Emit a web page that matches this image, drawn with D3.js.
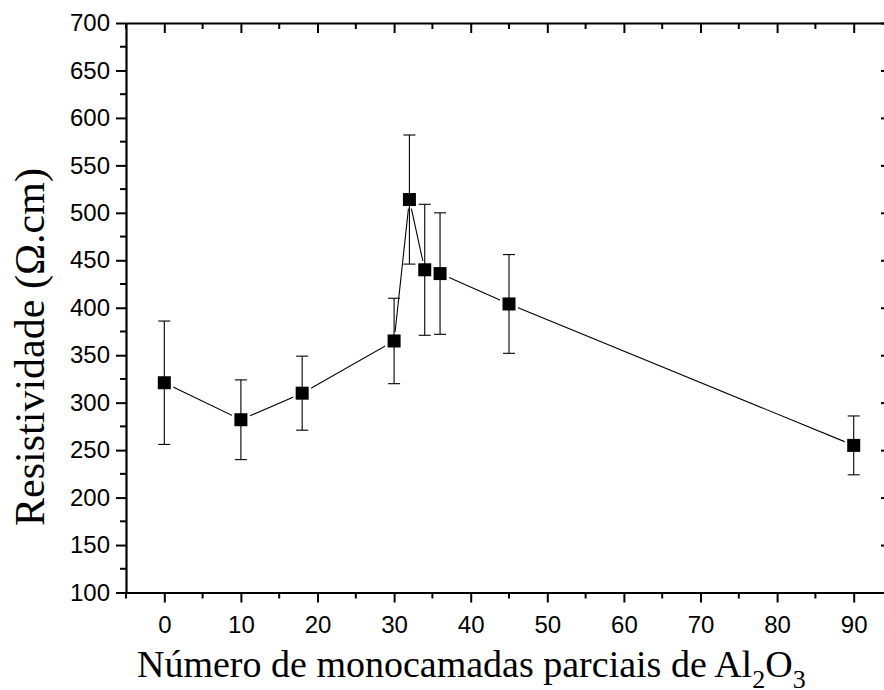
<!DOCTYPE html>
<html><head><meta charset="utf-8">
<script src="https://cdn.jsdelivr.net/npm/d3@7"></script>
<style>body{margin:0;background:#fff;} svg{display:block;}</style>
</head><body>
<svg id="c" width="884" height="690"></svg>
<script>
const xValues = [0, 10, 18, 30, 32, 34, 36, 45, 90];
const yValues = [321, 282, 310, 365, 514, 440, 436, 404, 255];
const yErrors = [65, 42, 39, 45, 68, 69, 64, 52, 31];
const xTicks = [0, 10, 20, 30, 40, 50, 60, 70, 80, 90];
const yTicks = [100, 150, 200, 250, 300, 350, 400, 450, 500, 550, 600, 650, 700];
const xTitle = "Número de monocamadas parciais de Al";
const yTitle = "Resistividade (Ω.cm)";

(function () {
const svg = d3.select("#c");
const L = 126, R = 892, T = 23, B = 592.5;
const x = d3.scaleLinear().domain([-5, 95]).range([L, R]);
const y = d3.scaleLinear().domain([100, 700]).range([B, T]);

const data = xValues.map((v, i) => ({x: v, y: yValues[i], e: yErrors[i]}));

svg.append("path").datum(data)
  .attr("d", d3.line().x(d => x(d.x)).y(d => y(d.y)))
  .attr("fill", "none").attr("stroke", "#000").attr("stroke-width", 1.1);
svg.append("g").selectAll("rect").data(data).join("rect")
  .attr("x", d => x(d.x) - 9).attr("y", d => y(d.y) - 9)
  .attr("width", 18).attr("height", 18).attr("fill", "#fff");
const eb = svg.append("g").attr("stroke", "#000").attr("stroke-width", 1.1).attr("fill", "none");
data.forEach(d => {
  const cx = x(d.x), y1 = y(d.y + d.e), y2 = y(d.y - d.e);
  eb.append("line").attr("x1", cx).attr("x2", cx).attr("y1", y1).attr("y2", y2);
  eb.append("line").attr("x1", cx - 6).attr("x2", cx + 6).attr("y1", y1).attr("y2", y1);
  eb.append("line").attr("x1", cx - 6).attr("x2", cx + 6).attr("y1", y2).attr("y2", y2);
});
svg.append("g").selectAll("rect").data(data).join("rect")
  .attr("x", d => x(d.x) - 6.5).attr("y", d => y(d.y) - 6.5)
  .attr("width", 13).attr("height", 13).attr("fill", "#000");

const xMinor = d3.range(-5, 96, 10);
const yMinor = d3.range(125, 700, 50);

const gBottom = svg.append("g").attr("transform", `translate(0,${B})`)
  .call(d3.axisBottom(x).tickValues(xTicks).tickSize(10).tickSizeOuter(0).tickPadding(13).tickFormat(d3.format("d")));
gBottom.append("g").selectAll("line").data(xMinor).join("line")
  .attr("x1", d => x(d)).attr("x2", d => x(d)).attr("y1", 0).attr("y2", 6).attr("stroke", "#000").attr("stroke-width", 2);
const gTop = svg.append("g").attr("transform", `translate(0,${T})`)
  .call(d3.axisTop(x).tickValues(xTicks).tickSize(-10).tickSizeOuter(0).tickFormat(""));
gTop.append("g").selectAll("line").data(xMinor).join("line")
  .attr("x1", d => x(d)).attr("x2", d => x(d)).attr("y1", 0).attr("y2", 6).attr("stroke", "#000").attr("stroke-width", 2);
const gLeft = svg.append("g").attr("transform", `translate(${L},0)`)
  .call(d3.axisLeft(y).tickValues(yTicks).tickSize(10).tickSizeOuter(0).tickPadding(6).tickFormat(d3.format("d")));
gLeft.append("g").selectAll("line").data(yMinor).join("line")
  .attr("x1", 0).attr("x2", -6).attr("y1", d => y(d)).attr("y2", d => y(d)).attr("stroke", "#000").attr("stroke-width", 2);
const gRight = svg.append("g").attr("transform", `translate(${R},0)`)
  .call(d3.axisRight(y).tickValues(yTicks).tickSize(-11).tickSizeOuter(0).tickFormat(""));

[gBottom, gTop, gLeft, gRight].forEach(g => {
  g.select(".domain").attr("stroke", "#000").attr("stroke-width", 2.2);
  g.selectAll(".tick line").attr("stroke", "#000").attr("stroke-width", 2);
  g.selectAll(".tick text").attr("fill", "#000")
    .style("font", "24px 'Liberation Sans', Arial, sans-serif");
});

const serif = "'Liberation Serif', 'Times New Roman', serif";
const xt = svg.append("text").attr("x", 137).attr("y", 677).attr("text-anchor", "start")
  .style("font-family", serif).style("font-size", "38px").attr("fill", "#000");
xt.append("tspan").text(xTitle);
xt.append("tspan").attr("dy", 11).style("font-size", "26px").text("2");
xt.append("tspan").attr("dy", -11).text("O");
xt.append("tspan").attr("dy", 11).style("font-size", "26px").text("3");

svg.append("text").attr("transform", "translate(44,347) rotate(-90)").attr("text-anchor", "middle")
  .style("font-family", serif).style("font-size", "42px").attr("fill", "#000").text(yTitle);
})();
</script>
</body></html>
